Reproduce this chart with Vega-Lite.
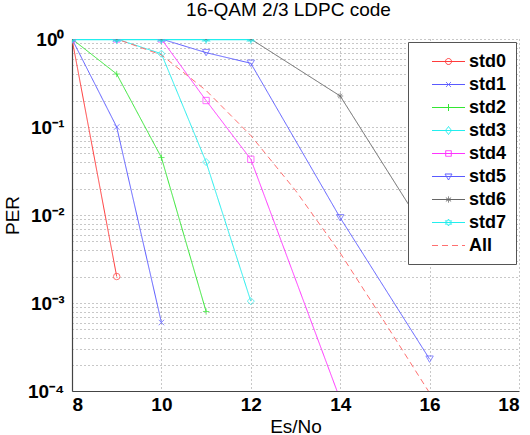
{
  "$schema": "https://vega.github.io/schema/vega-lite/v6.json",
  "width": 447,
  "height": 352,
  "autosize": {"type": "none"},
  "padding": {"left": 72, "top": 39, "right": 11, "bottom": 44},
  "title": {"text": "16-QAM 2/3 LDPC code", "font": "Liberation Sans", "fontSize": 19, "fontWeight": "normal", "color": "#000", "offset": 10, "dx": -7},
  "data": {"values": [
    {"series": "std0", "x": 8, "y": 1}, {"series": "std0", "x": 9, "y": 0.002},
    {"series": "std1", "x": 8, "y": 1}, {"series": "std1", "x": 9, "y": 0.1}, {"series": "std1", "x": 10, "y": 0.0006},
    {"series": "std2", "x": 8, "y": 1}, {"series": "std2", "x": 9, "y": 0.4}, {"series": "std2", "x": 10, "y": 0.045}, {"series": "std2", "x": 11, "y": 0.0008},
    {"series": "std3", "x": 8, "y": 1}, {"series": "std3", "x": 9, "y": 1}, {"series": "std3", "x": 10, "y": 0.68}, {"series": "std3", "x": 11, "y": 0.04}, {"series": "std3", "x": 12, "y": 0.00105},
    {"series": "std4", "x": 8, "y": 1}, {"series": "std4", "x": 9, "y": 1}, {"series": "std4", "x": 10, "y": 1}, {"series": "std4", "x": 11, "y": 0.2}, {"series": "std4", "x": 12, "y": 0.043}, {"series": "std4", "x": 14, "y": 0.00008},
    {"series": "std5", "x": 8, "y": 1}, {"series": "std5", "x": 9, "y": 1}, {"series": "std5", "x": 10, "y": 1}, {"series": "std5", "x": 11, "y": 0.7}, {"series": "std5", "x": 12, "y": 0.53}, {"series": "std5", "x": 14, "y": 0.0093}, {"series": "std5", "x": 16, "y": 0.00023},
    {"series": "std6", "x": 8, "y": 1}, {"series": "std6", "x": 9, "y": 1}, {"series": "std6", "x": 10, "y": 1}, {"series": "std6", "x": 11, "y": 1}, {"series": "std6", "x": 12, "y": 1}, {"series": "std6", "x": 14, "y": 0.225}, {"series": "std6", "x": 16, "y": 0.0055},
    {"series": "std7", "x": 8, "y": 1}, {"series": "std7", "x": 9, "y": 1}, {"series": "std7", "x": 10, "y": 1}, {"series": "std7", "x": 11, "y": 1}, {"series": "std7", "x": 12, "y": 1},
    {"series": "All", "x": 8, "y": 1}, {"series": "All", "x": 9, "y": 1}, {"series": "All", "x": 10, "y": 0.66}, {"series": "All", "x": 11, "y": 0.26}, {"series": "All", "x": 12, "y": 0.08}, {"series": "All", "x": 13, "y": 0.019}, {"series": "All", "x": 14, "y": 0.0037}, {"series": "All", "x": 15, "y": 0.0006}, {"series": "All", "x": 16, "y": 0.000095}
  ]},
  "encoding": {
    "x": {"field": "x", "type": "quantitative", "title": "Es/No",
      "scale": {"domain": [8, 18], "nice": false},
      "axis": {"values": [8, 10, 12, 14, 16, 18], "labelPadding": 4, "titlePadding": 3}},
    "y": {"field": "y", "type": "quantitative", "title": "PER",
      "scale": {"type": "log", "domain": [0.0001, 1], "nice": false},
      "axis": {"values": [0.0001, 0.0002, 0.0003, 0.0004, 0.0005, 0.0006, 0.0007, 0.0008, 0.0009, 0.001, 0.002, 0.003, 0.004, 0.005, 0.006, 0.007, 0.008, 0.009, 0.01, 0.02, 0.03, 0.04, 0.05, 0.06, 0.07, 0.08, 0.09, 0.1, 0.2, 0.3, 0.4, 0.5, 0.6, 0.7, 0.8, 0.9, 1],
        "labelExpr": "datum.value == 1 ? '10⁰' : datum.value == 0.1 ? '10⁻¹' : datum.value == 0.01 ? '10⁻²' : datum.value == 0.001 ? '10⁻³' : datum.value == 0.0001 ? '10⁻⁴' : ''",
        "labelPadding": 8, "titlePadding": 5, "labelOverlap": false}},
    "color": {"field": "series", "type": "nominal",
      "scale": {"domain": ["std0", "std1", "std2", "std3", "std4", "std5", "std6", "std7", "All"],
        "range": ["#ff3b3b", "#5a5aff", "#33e633", "#22eeee", "#ff33ff", "#5a5aff", "#666666", "#22eeee", "#ff7070"]},
      "legend": {"title": null}}
  },
  "layer": [
    {"mark": {"type": "line", "strokeWidth": 1, "clip": true},
     "encoding": {"strokeDash": {"field": "series", "type": "nominal",
       "scale": {"domain": ["std0", "std1", "std2", "std3", "std4", "std5", "std6", "std7", "All"],
         "range": [[1, 0], [1, 0], [1, 0], [1, 0], [1, 0], [1, 0], [1, 0], [1, 0], [6, 4]]},
       "legend": {"title": null}}}},
    {"transform": [{"filter": "datum.series === 'std7'"}], "mark": {"type": "line", "strokeWidth": 2.5, "clip": true}},
    {"transform": [{"filter": "datum.series === 'std0'"}], "mark": {"type": "point", "shape": "circle", "size": 42, "filled": false, "strokeWidth": 1, "clip": true}},
    {"transform": [{"filter": "datum.series === 'std1'"}], "mark": {"type": "point", "shape": "M-1,-1L1,1M1,-1L-1,1", "size": 30, "filled": false, "strokeWidth": 1, "clip": true}},
    {"transform": [{"filter": "datum.series === 'std2'"}], "mark": {"type": "point", "shape": "M-1,0H1M0,-1V1", "size": 40, "filled": false, "strokeWidth": 1, "clip": true}},
    {"transform": [{"filter": "datum.series === 'std3'"}], "mark": {"type": "point", "shape": "diamond", "size": 50, "filled": false, "strokeWidth": 1, "clip": true}},
    {"transform": [{"filter": "datum.series === 'std4'"}], "mark": {"type": "point", "shape": "square", "size": 40, "filled": false, "strokeWidth": 1, "clip": true}},
    {"transform": [{"filter": "datum.series === 'std5'"}], "mark": {"type": "point", "shape": "triangle-down", "size": 55, "filled": false, "strokeWidth": 1, "clip": true}},
    {"transform": [{"filter": "datum.series === 'std6'"}], "mark": {"type": "point", "shape": "M-1,0H1M0,-1V1M-0.7,-0.7L0.7,0.7M0.7,-0.7L-0.7,0.7", "size": 36, "filled": false, "strokeWidth": 1, "clip": true}},
    {"transform": [{"filter": "datum.series === 'std7'"}], "mark": {"type": "point", "shape": "M0,-1L0.25,-0.433L0.866,-0.5L0.5,0L0.866,0.5L0.25,0.433L0,1L-0.25,0.433L-0.866,0.5L-0.5,0L-0.866,-0.5L-0.25,-0.433Z", "size": 50, "filled": false, "strokeWidth": 1.5, "clip": true}},
    {"mark": {"type": "point", "opacity": 0, "filled": false},
     "encoding": {"shape": {"field": "series", "type": "nominal",
       "scale": {"domain": ["std0", "std1", "std2", "std3", "std4", "std5", "std6", "std7", "All"],
         "range": [
           "M-1.65,0H1.65M0.3,0A0.3,0.3 0 1 1 -0.3,0A0.3,0.3 0 1 1 0.3,0",
           "M-1.65,0H1.65M-0.25,-0.25L0.25,0.25M0.25,-0.25L-0.25,0.25",
           "M-1.65,0H1.65M0,-0.35V0.35",
           "M-1.65,0H1.65M0,-0.4L0.3,0L0,0.4L-0.3,0Z",
           "M-1.65,0H1.65M-0.28,-0.28H0.28V0.28H-0.28Z",
           "M-1.65,0H1.65M-0.35,-0.25H0.35L0,0.35Z",
           "M-1.65,0H1.65M0,-0.3V0.3M-0.26,-0.18L0.26,0.18M0.26,-0.18L-0.26,0.18",
           "M-1.65,0H1.65M0,-0.35L0.09,-0.156L0.303,-0.175L0.18,0L0.303,0.175L0.09,0.156L0,0.35L-0.09,0.156L-0.303,0.175L-0.18,0L-0.303,-0.175L-0.09,-0.156Z",
           "M-1.65,0H1.65"
         ]},
       "legend": {"title": null}}}}
  ],
  "config": {
    "view": {"stroke": null},
    "font": "Liberation Sans",
    "axis": {
      "labelFont": "Liberation Sans", "labelFontSize": 19, "labelFontWeight": "bold", "labelColor": "#000",
      "titleFont": "Liberation Sans", "titleFontSize": 19, "titleFontWeight": "normal", "titleColor": "#000",
      "domainColor": "#444", "domainWidth": 1.2, "ticks": false,
      "grid": true, "gridColor": "#777", "gridDash": [1, 3], "gridWidth": 1, "gridOpacity": 0.8
    },
    "legend": {
      "orient": "top-right", "offset": 3, "padding": 9,
      "fillColor": "#ffffff", "strokeColor": "#555", "strokeWidth": 1,
      "symbolSize": 400, "symbolStrokeWidth": 1, "symbolOpacity": 1, "symbolFillColor": "transparent",
      "symbolOffset": 21,
      "labelFont": "Liberation Sans", "labelFontSize": 18, "labelFontWeight": "bold", "labelColor": "#000",
      "labelOffset": 10, "rowPadding": 3, "labelLimit": 200
    }
  }
}
